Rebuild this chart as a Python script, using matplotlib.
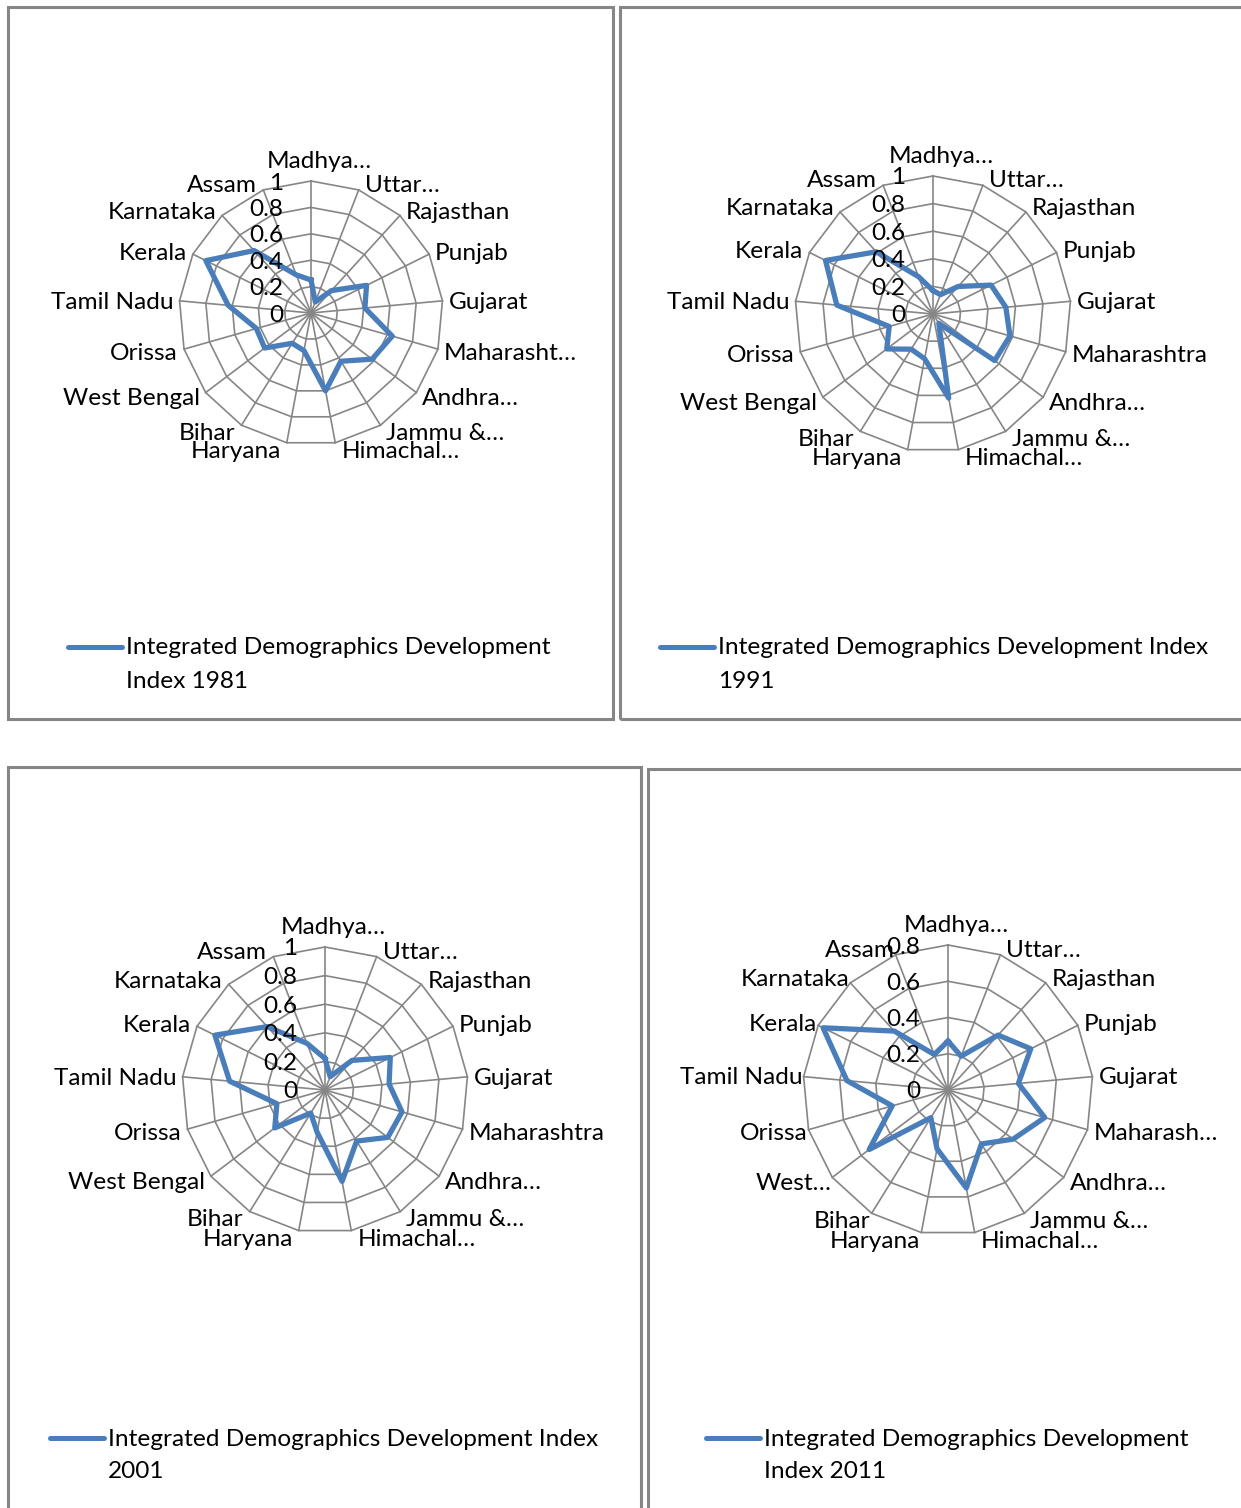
import numpy as np
import matplotlib
matplotlib.use("Agg")
import matplotlib.pyplot as plt
from matplotlib.patches import Rectangle
from matplotlib.lines import Line2D
from matplotlib.transforms import offset_copy

plt.rcParams['font.family'] = ['Lato', 'DejaVu Sans']

# States, clockwise from the top spoke
states = ["Madhya Pradesh", "Uttar Pradesh", "Rajasthan", "Punjab", "Gujarat",
          "Maharashtra", "Andhra Pradesh", "Jammu & Kashmir", "Himachal Pradesh",
          "Haryana", "Bihar", "West Bengal", "Orissa", "Tamil Nadu", "Kerala",
          "Karnataka", "Assam"]

# axis labels as they show (truncated) on each chart
labels_1981 = ["Madhya…", "Uttar…", "Rajasthan", "Punjab", "Gujarat", "Maharasht…",
               "Andhra…", "Jammu &…", "Himachal…", "Haryana", "Bihar", "West Bengal",
               "Orissa", "Tamil Nadu", "Kerala", "Karnataka", "Assam"]
labels_1991 = ["Madhya…", "Uttar…", "Rajasthan", "Punjab", "Gujarat", "Maharashtra",
               "Andhra…", "Jammu &…", "Himachal…", "Haryana", "Bihar", "West Bengal",
               "Orissa", "Tamil Nadu", "Kerala", "Karnataka", "Assam"]
labels_2001 = labels_1991
labels_2011 = ["Madhya…", "Uttar…", "Rajasthan", "Punjab", "Gujarat", "Maharash…",
               "Andhra…", "Jammu &…", "Himachal…", "Haryana", "Bihar", "West…",
               "Orissa", "Tamil Nadu", "Kerala", "Karnataka", "Assam"]

# Integrated Demographics Development Index
idx_1981 = [0.25, 0.09, 0.23, 0.47, 0.41, 0.64, 0.58, 0.43, 0.60, 0.29, 0.27, 0.44, 0.43, 0.63, 0.89, 0.64, 0.31]
idx_1991 = [0.17, 0.15, 0.27, 0.47, 0.53, 0.58, 0.56, 0.08, 0.62, 0.33, 0.30, 0.42, 0.33, 0.70, 0.87, 0.61, 0.29]
idx_2001 = [0.22, 0.10, 0.28, 0.51, 0.45, 0.56, 0.55, 0.42, 0.65, 0.30, 0.19, 0.44, 0.35, 0.67, 0.86, 0.60, 0.35]
idx_2011 = [0.27, 0.20, 0.41, 0.51, 0.39, 0.555, 0.45, 0.35, 0.55, 0.33, 0.18, 0.545, 0.32, 0.56, 0.77, 0.44, 0.21]

years = ["1981", "1991", "2001", "2011"]
ticks_full = [0, 0.2, 0.4, 0.6, 0.8, 1.0]
ticks_2011 = [0, 0.2, 0.4, 0.6, 0.8]

W, H = 1241, 1508
BLUE = '#4A7EBB'
GRID = '#868686'
FS = 17.6

fig = plt.figure(figsize=(W / 100, H / 100), dpi=100)
fig.patch.set_facecolor('white')


def fx(x):
    return x / W


def fy(y):
    return 1 - y / H


def tick_text(v):
    return '0' if v == 0 else ('1' if v == 1 else f'{v:.1f}')


def radar(cx, cy, R, values, labels, ticks, lpad=6):
    rmax = ticks[-1]
    ax = fig.add_axes([fx(cx - R), fy(cy + R), 2 * R / W, 2 * R / H], projection='polar')
    ax.set_theta_zero_location('N')
    ax.set_theta_direction(-1)
    ax.set_ylim(0, rmax)
    ax.axis('off')
    n = len(values)
    theta = np.arange(n) * 2 * np.pi / n
    tc = np.append(theta, theta[0])
    # polygon gridlines and spokes
    for r in ticks[1:]:
        ax.plot(tc, [r] * (n + 1), color=GRID, lw=1.2, zorder=1, clip_on=False)
    for t in theta:
        ax.plot([t, t], [0, rmax], color=GRID, lw=1.2, zorder=1, clip_on=False)
    ax.plot(tc, np.append(values, values[0]), color=BLUE, lw=3.8,
            solid_joinstyle='round', zorder=3, clip_on=False)
    # category labels
    for t, lab in zip(theta, labels):
        s, c = np.sin(t), np.cos(t)
        if abs(s) < 0.01:
            tr = offset_copy(ax.transData, fig=fig, x=8, y=9, units='dots')
            ax.text(t, rmax, lab, transform=tr, ha='center', va='bottom', fontsize=FS)
            continue
        dx = 6 if s > 0 else -lpad
        dy = c * 7 - 2
        tr = offset_copy(ax.transData, fig=fig, x=dx, y=dy, units='dots')
        ax.text(t, rmax, lab, transform=tr, ha='left' if s > 0 else 'right',
                va='center', fontsize=FS, zorder=4)
    # value axis labels
    for v in ticks:
        tr = offset_copy(ax.transData, fig=fig, x=-28, y=-2, units='dots')
        ax.text(0, v, tick_text(v), transform=tr, ha='right', va='center',
                fontsize=FS, zorder=4)
    return ax


def box(x0, y0, x1, y1):
    fig.add_artist(Rectangle((fx(x0), fy(y1)), fx(x1) - fx(x0), fy(y0) - fy(y1),
                             transform=fig.transFigure, fill=False,
                             edgecolor=GRID, lw=2.2))


def legend(x, y, lines):
    fig.add_artist(Line2D([fx(x), fx(x + 54)], [fy(y), fy(y)], color=BLUE, lw=3.6,
                          solid_capstyle='round', transform=fig.transFigure))
    for k, line in enumerate(lines):
        fig.text(fx(x + 58), fy(y + 1 + 33 * k), line, ha='left', va='center', fontsize=FS)


box(8, 7, 613, 719)
box(620, 7, 1250, 719)
box(8, 767, 641, 1515)
box(648, 769, 1250, 1515)

radar(311, 313, 132, idx_1981, labels_1981, ticks_full)
radar(933, 314, 138, idx_1991, labels_1991, ticks_full)
radar(325, 1090, 143, idx_2001, labels_2001, ticks_full)
radar(948, 1090, 145, idx_2011, labels_2011, ticks_2011, lpad=1)

legend(68, 647, ["Integrated Demographics Development", "Index " + years[0]])
legend(660, 647, ["Integrated Demographics Development Index", years[1]])
legend(50, 1438, ["Integrated Demographics Development Index", years[2]])
legend(706, 1438, ["Integrated Demographics Development", "Index " + years[3]])

fig.savefig('out.png', dpi=100, facecolor='white')
